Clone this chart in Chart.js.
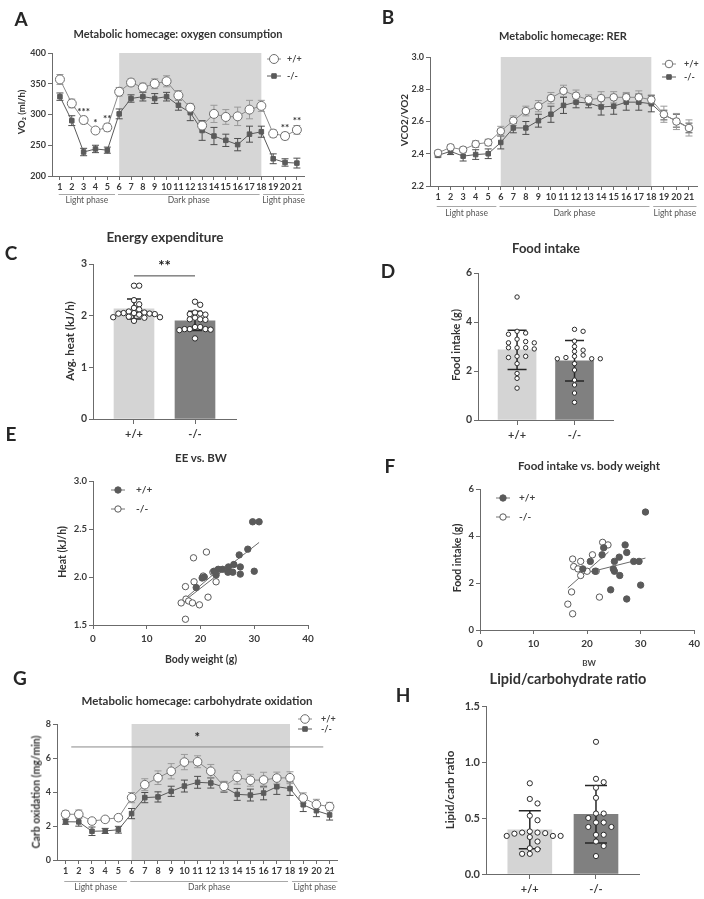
<!DOCTYPE html>
<html>
<head>
<meta charset="utf-8">
<script src="https://cdn.jsdelivr.net/npm/chart.js@4.4.1/dist/chart.umd.min.js"></script>
<style>
  html, body { margin: 0; padding: 0; background: #fff; }
  #fig { position: relative; width: 704px; height: 899px; overflow: hidden; font-family: Lato, 'Open Sans', sans-serif; color: #333; }
  #fig canvas { position: absolute; left: 0; top: 0; }
  .t { position: absolute; transform: translate(-50%, -50%); white-space: nowrap; font-weight: 700; line-height: 1; }
  .yt { transform: translate(-50%, -50%) rotate(-90deg); }
  .letter { font-size: 19px; color: #262626; }
</style>
</head>
<body>
<div id="fig">
  <canvas id="cA" width="704" height="899"></canvas>
  <canvas id="cB" width="704" height="899"></canvas>
  <canvas id="cC" width="704" height="899"></canvas>
  <canvas id="cD" width="704" height="899"></canvas>
  <canvas id="cE" width="704" height="899"></canvas>
  <canvas id="cF" width="704" height="899"></canvas>
  <canvas id="cG" width="704" height="899"></canvas>
  <canvas id="cH" width="704" height="899"></canvas>

  <div class="t letter" style="left:21px;top:18px">A</div>
  <div class="t letter" style="left:388px;top:16px">B</div>
  <div class="t letter" style="left:11px;top:252px">C</div>
  <div class="t letter" style="left:388px;top:270px">D</div>
  <div class="t letter" style="left:11px;top:433px">E</div>
  <div class="t letter" style="left:390px;top:465px">F</div>
  <div class="t letter" style="left:20px;top:677px">G</div>
  <div class="t letter" style="left:403px;top:694px">H</div>

  <div class="t" style="left:178px;top:33px;font-size:11px">Metabolic homecage: oxygen consumption</div>
  <div class="t" style="left:563px;top:35px;font-size:11px">Metabolic homecage: RER</div>
  <div class="t" style="left:165px;top:238px;font-size:13.5px">Energy expenditure</div>
  <div class="t" style="left:546px;top:248px;font-size:13px">Food intake</div>
  <div class="t" style="left:201px;top:458px;font-size:11.5px">EE vs. BW</div>
  <div class="t" style="left:589px;top:466px;font-size:11.5px">Food intake vs. body weight</div>
  <div class="t" style="left:197px;top:701px;font-size:11.5px">Metabolic homecage: carbohydrate oxidation</div>
  <div class="t" style="left:568px;top:679px;font-size:14.5px">Lipid/carbohydrate ratio</div>

  <div class="t yt" style="left:22px;top:112px;font-size:9.5px">VO₂ (ml/h)</div>
  <div class="t yt" style="left:404px;top:120px;font-size:10px">VCO2/VO2</div>
  <div class="t yt" style="left:70px;top:341px;font-size:11.5px">Avg. heat (kJ/h)</div>
  <div class="t yt" style="left:455px;top:345px;font-size:11px">Food intake (g)</div>
  <div class="t yt" style="left:62px;top:552px;font-size:10.5px">Heat (kJ/h)</div>
  <div class="t yt" style="left:457px;top:558px;font-size:10.5px">Food intake (g)</div>
  <div class="t yt" style="left:36px;top:792px;font-size:10.5px">Carb oxidation (mg/min)</div>
  <div class="t yt" style="left:450px;top:790px;font-size:11.5px">Lipid/carb ratio</div>

  <div class="t" style="left:201px;top:659px;font-size:10.5px">Body weight (g)</div>
  <div class="t" style="left:589px;top:663px;font-size:8px;color:#444">BW</div>
</div>

<script>
// ---- data ----
const groups = ['+/+', '-/-'];
const hours = [1, 2, 3, 4, 5, 6, 7, 8, 9, 10, 11, 12, 13, 14, 15, 16, 17, 18, 19, 20, 21];
const phaseNames = ['Light phase', 'Dark phase', 'Light phase'];
const phaseFrom = [0.9, 5.9, 18.15];
const phaseTo = [5.65, 17.85, 21.6];
const darkFrom = 6;
const darkTo = 18;

// A: oxygen consumption (mean, SEM)
const vo2WT = [357, 318, 291, 274, 279, 337, 352, 344, 350, 354, 331, 311, 282, 301, 296, 297, 308, 314, 269, 265, 275];
const vo2WTerr = [8, 7, 6, 4, 6, 7, 6, 7, 8, 9, 8, 7, 6, 14, 12, 15, 15, 9, 6, 6, 7];
const vo2KO = [329, 290, 239, 244, 242, 301, 326, 329, 326, 329, 315, 303, 274, 265, 258, 251, 268, 272, 228, 222, 221];
const vo2KOerr = [6, 8, 6, 6, 5, 8, 6, 7, 8, 7, 8, 13, 16, 14, 10, 10, 13, 9, 8, 6, 8];
const vo2Stars = ['', '', '***', '*', '**', '', '', '', '', '', '', '', '', '', '', '', '', '', '', '**', '**'];

// B: RER
const rerWT = [2.405, 2.44, 2.425, 2.46, 2.47, 2.54, 2.605, 2.665, 2.695, 2.745, 2.79, 2.76, 2.735, 2.745, 2.75, 2.75, 2.75, 2.735, 2.645, 2.6, 2.56];
const rerWTerr = [0.015, 0.015, 0.015, 0.02, 0.02, 0.03, 0.03, 0.03, 0.035, 0.035, 0.035, 0.035, 0.03, 0.04, 0.035, 0.03, 0.04, 0.03, 0.05, 0.05, 0.05];
const rerKO = [2.39, 2.415, 2.385, 2.395, 2.4, 2.47, 2.56, 2.56, 2.605, 2.645, 2.7, 2.72, 2.715, 2.69, 2.695, 2.72, 2.72, 2.71, 2.64, 2.605, 2.56];
const rerKOerr = [0.01, 0.02, 0.03, 0.03, 0.03, 0.04, 0.03, 0.04, 0.04, 0.05, 0.05, 0.035, 0.03, 0.05, 0.05, 0.05, 0.05, 0.05, 0.03, 0.04, 0.03];

// G: carbohydrate oxidation
const carbWT = [2.69, 2.69, 2.29, 2.39, 2.49, 3.67, 4.43, 4.84, 5.22, 5.76, 5.78, 5.22, 4.33, 4.86, 4.69, 4.71, 4.82, 4.84, 3.65, 3.27, 3.14];
const carbWTerr = [0.2, 0.25, 0.1, 0.15, 0.15, 0.3, 0.35, 0.4, 0.45, 0.45, 0.35, 0.4, 0.3, 0.4, 0.35, 0.45, 0.35, 0.35, 0.3, 0.3, 0.25];
const carbKO = [2.25, 2.24, 1.69, 1.71, 1.78, 2.73, 3.67, 3.71, 4.04, 4.35, 4.57, 4.53, 4.29, 3.86, 3.82, 3.94, 4.31, 4.2, 3.25, 2.9, 2.65];
const carbKOerr = [0.15, 0.25, 0.25, 0.15, 0.2, 0.3, 0.3, 0.3, 0.3, 0.35, 0.35, 0.3, 0.3, 0.35, 0.35, 0.4, 0.45, 0.4, 0.4, 0.35, 0.3];
const carbSig = [1.43, 20.52, 6.65];

// C: energy expenditure per mouse, bar = mean, whisker = SD
const eeWT = [2.58, 2.58, 2.3, 2.22, 2.15, 2.12, 2.08, 2.06, 2.05, 2.05, 2.04, 2.04, 2.03, 2.02, 1.98, 1.97, 1.97, 1.96, 1.9];
const eeKO = [2.27, 2.21, 2.06, 2.04, 2.03, 2.02, 1.96, 1.93, 1.93, 1.92, 1.78, 1.78, 1.74, 1.74, 1.74, 1.73, 1.72, 1.56];
const eeMean = [2.13, 1.9];
const eeSD = [0.195, 0.185];
const eeSig = 2.77;

// D: food intake
const foodWT = [5.02, 3.62, 3.55, 3.5, 3.3, 3.15, 3.15, 3.2, 2.95, 2.95, 2.95, 2.9, 2.6, 2.55, 2.6, 2.3, 1.9, 1.7, 1.3];
const foodKO = [3.7, 3.62, 3.22, 3.0, 2.85, 2.8, 2.65, 2.6, 2.55, 2.5, 2.5, 2.5, 2.3, 2.04, 1.63, 1.43, 1.1, 0.72];
const foodMean = [2.86, 2.42];
const foodSD = [0.8, 0.83];

// H: lipid/carb ratio
const ratioWT = [0.81, 0.67, 0.63, 0.52, 0.48, 0.38, 0.37, 0.37, 0.365, 0.36, 0.34, 0.34, 0.34, 0.33, 0.29, 0.23, 0.22, 0.18, 0.18];
const ratioKO = [1.18, 0.85, 0.82, 0.77, 0.68, 0.54, 0.54, 0.5, 0.46, 0.46, 0.42, 0.42, 0.35, 0.35, 0.29, 0.25, 0.16];
const ratioMean = [0.395, 0.533];
const ratioSD = [0.17, 0.257];

// E: heat vs body weight
const eeBwWTx = [29.7, 30.9, 28.8, 27.2, 30.0, 27.4, 27.4, 26.2, 26.0, 25.2, 25.1, 24.1, 23.3, 22.9, 22.5, 20.7, 20.3, 19.2];
const eeBwWTy = [2.575, 2.575, 2.29, 2.23, 2.06, 2.105, 2.03, 2.13, 2.05, 2.105, 2.05, 2.08, 2.08, 2.02, 2.06, 2.0, 1.99, 1.89];
const eeBwKOx = [18.7, 21.1, 22.3, 22.9, 18.8, 17.2, 20.5, 21.4, 17.3, 17.8, 16.4, 18.5, 19.8, 17.2];
const eeBwKOy = [2.2, 2.26, 2.05, 1.95, 1.95, 1.9, 2.01, 1.79, 1.77, 1.75, 1.73, 1.73, 1.71, 1.56];
const eeFitWTx = [17.2, 30.9], eeFitWTy = [1.76, 2.36];
const eeFitKOx = [16.4, 23.5], eeFitKOy = [1.74, 2.08];

// F: food intake vs body weight
const fiBwWTx = [30.9, 27.1, 27.4, 26.0, 28.7, 29.7, 25.1, 24.9, 25.1, 26.1, 30.0, 24.4, 27.4, 23.1, 22.8, 20.6, 19.2, 21.5];
const fiBwWTy = [5.02, 3.62, 3.3, 3.1, 2.92, 2.92, 2.92, 2.6, 2.5, 2.32, 1.91, 1.71, 1.32, 3.5, 3.2, 2.92, 2.6, 2.5];
const fiBwKOx = [22.9, 23.9, 21.0, 17.3, 18.8, 17.5, 18.3, 20.0, 18.8, 21.7, 17.1, 16.4, 17.3, 22.3];
const fiBwKOy = [3.73, 3.62, 3.2, 3.02, 2.92, 2.7, 2.6, 2.5, 2.32, 2.5, 1.62, 1.1, 0.69, 1.4];
const fiFitWTx = [18.5, 30.9], fiFitWTy = [2.35, 3.06];
const fiFitKOx = [16.4, 24.0], fiFitKOy = [1.79, 3.32];

// ---- look ----
const FONT = "Lato, 'Open Sans', sans-serif";
const AXIS = '#6b6b6b';
const TXT = '#3a3a3a';
const SHADE = '#d6d6d6';
const LIGHT = '#d4d4d4';
const DARK = '#808080';
const W = 704, H = 899, AXW = 30, AXH = 20;

Chart.defaults.font.family = FONT;
Chart.defaults.color = TXT;
Chart.defaults.animation = false;

// chart area in page pixels: [left, top, right, bottom]
function frame(area) {
    return { padding: { left: area[0] - AXW, top: area[1], right: W - area[2], bottom: H - area[3] - AXH } };
}

function xAxis(min, max, ticksAt, fmt, size, tickLen, pad) {
    return {
        type: 'linear', min: min, max: max, offset: false,
        afterBuildTicks: s => { s.ticks = ticksAt.map(v => ({ value: v })); },
        afterFit: s => { s.height = AXH; },
        border: { color: AXIS, width: 1 },
        grid: { drawOnChartArea: false, drawTicks: true, tickLength: tickLen, color: AXIS, offset: false },
        ticks: { autoSkip: false, maxRotation: 0, minRotation: 0, padding: pad, color: TXT, font: { size: size, weight: 'bold' }, callback: fmt }
    };
}

function yAxis(min, max, step, digits, size) {
    return {
        type: 'linear', min: min, max: max,
        afterFit: s => { s.width = AXW; },
        border: { color: AXIS, width: 1 },
        grid: { drawOnChartArea: false, drawTicks: true, tickLength: 4, color: AXIS },
        ticks: { stepSize: step, padding: 2, color: TXT, font: { size: size, weight: 'bold' }, callback: v => Number(v).toFixed(digits) }
    };
}

function marker(ctx, style, x, y, r, fill, stroke) {
    ctx.beginPath();
    if (style === 'rect') {
        const s = r * Math.SQRT1_2;
        ctx.rect(x - s, y - s, 2 * s, 2 * s);
    } else {
        ctx.arc(x, y, r, 0, Math.PI * 2);
    }
    ctx.fillStyle = fill;
    ctx.fill();
    ctx.lineWidth = 1;
    ctx.strokeStyle = stroke;
    ctx.stroke();
}

function drawErr(chart, ds, cap, width) {
    const { ctx, scales: { x, y } } = chart;
    ctx.save();
    ctx.strokeStyle = ds.errColor;
    ctx.lineWidth = width;
    ds.data.forEach((p, i) => {
        const e = ds.errors[i];
        const px = x.getPixelForValue(p.x);
        const top = y.getPixelForValue(p.y + e), bot = y.getPixelForValue(p.y - e);
        ctx.beginPath();
        ctx.moveTo(px, top); ctx.lineTo(px, bot);
        ctx.moveTo(px - cap / 2, top); ctx.lineTo(px + cap / 2, top);
        ctx.moveTo(px - cap / 2, bot); ctx.lineTo(px + cap / 2, bot);
        ctx.stroke();
    });
    ctx.restore();
}

function keyPlugin(sx, tx, ys, size) {
    return {
        id: 'key',
        afterDraw(chart) {
            const ctx = chart.ctx;
            ys.forEach((y, k) => {
                const ds = chart.data.datasets[k];
                ctx.save();
                ctx.strokeStyle = ds.keyLine;
                ctx.lineWidth = 1;
                ctx.beginPath(); ctx.moveTo(sx - 7, y); ctx.lineTo(sx + 7, y); ctx.stroke();
                marker(ctx, ds.pointStyle, sx, y, ds.pointRadius, ds.pointBackgroundColor, ds.pointBorderColor);
                ctx.fillStyle = '#444';
                ctx.font = 'bold ' + size + 'px ' + FONT;
                ctx.textAlign = 'left';
                ctx.textBaseline = 'middle';
                ctx.fillText(ds.label, tx, y);
                ctx.restore();
            });
        }
    };
}

function sigPlugin(from, to, val, text, color, size, gap) {
    return {
        id: 'sig',
        afterDatasetsDraw(chart) {
            const { ctx, scales: { x, y } } = chart;
            const a = x.getPixelForValue(from), b = x.getPixelForValue(to), py = y.getPixelForValue(val);
            ctx.save();
            ctx.strokeStyle = color;
            ctx.lineWidth = 1;
            ctx.beginPath(); ctx.moveTo(a, py); ctx.lineTo(b, py); ctx.stroke();
            ctx.fillStyle = '#222';
            ctx.font = 'bold ' + size + 'px ' + FONT;
            ctx.textAlign = 'center';
            ctx.textBaseline = 'middle';
            ctx.fillText(text, (a + b) / 2, py - gap);
            ctx.restore();
        }
    };
}

// time course panel (A, B, G)
function seriesPanel(id, area, o) {
    const plugins = [
        {
            id: 'shade',
            beforeDraw(chart) {
                const { ctx, chartArea: ca, scales: { x, y } } = chart;
                const a = x.getPixelForValue(darkFrom), b = x.getPixelForValue(darkTo);
                const top = y.getPixelForValue(o.y[1]);
                ctx.save();
                ctx.fillStyle = SHADE;
                ctx.fillRect(a, top, b - a, ca.bottom - top);
                ctx.restore();
            }
        },
        {
            id: 'errs',
            beforeDatasetsDraw(chart) {
                drawErr(chart, chart.data.datasets[1], 7, 1);
                drawErr(chart, chart.data.datasets[0], 7, 1);
            }
        },
        {
            id: 'phases',
            afterDraw(chart) {
                const { ctx, chartArea: ca, scales: { x } } = chart;
                ctx.save();
                ctx.strokeStyle = '#a8a8a8';
                ctx.lineWidth = 1;
                ctx.fillStyle = '#555';
                ctx.font = '8.5px ' + FONT;
                ctx.textAlign = 'center';
                ctx.textBaseline = 'middle';
                phaseNames.forEach((name, i) => {
                    const a = x.getPixelForValue(phaseFrom[i]), b = x.getPixelForValue(phaseTo[i]);
                    ctx.beginPath();
                    ctx.moveTo(a, ca.bottom + o.phase[0] + 0.5);
                    ctx.lineTo(b, ca.bottom + o.phase[0] + 0.5);
                    ctx.stroke();
                    ctx.fillText(name, (a + b) / 2, ca.bottom + o.phase[1]);
                });
                ctx.restore();
            }
        },
        keyPlugin(o.key[0], o.key[1], o.key.slice(2), 9)
    ].concat(o.extra || []);

    return new Chart(document.getElementById(id), {
        type: 'line',
        data: {
            datasets: [
                {
                    label: groups[0],
                    data: hours.map((h, i) => ({ x: h, y: o.wt[i] })),
                    errors: o.wtErr, errColor: '#9a9a9a', keyLine: '#8a8a8a',
                    borderColor: '#8a8a8a', borderWidth: 1,
                    pointStyle: 'circle', pointRadius: o.r,
                    pointBackgroundColor: '#fff', pointBorderColor: '#6e6e6e', pointBorderWidth: 1
                },
                {
                    label: groups[1],
                    data: hours.map((h, i) => ({ x: h, y: o.ko[i] })),
                    errors: o.koErr, errColor: '#4d4d4d', keyLine: '#5a5a5a',
                    borderColor: '#5a5a5a', borderWidth: 1,
                    pointStyle: 'rect', pointRadius: 3.2,
                    pointBackgroundColor: '#5a5a5a', pointBorderColor: '#5a5a5a', pointBorderWidth: 1
                }
            ]
        },
        options: {
            responsive: false, animation: false, events: [],
            layout: frame(area),
            plugins: { legend: { display: false }, tooltip: { enabled: false } },
            scales: {
                x: xAxis(o.x[0], o.x[1], hours, v => String(v), 9, 4, 2),
                y: yAxis(o.y[0], o.y[1], o.y[2], o.y[3], 9)
            }
        },
        plugins: plugins
    });
}

// horizontal spread of dots, GraphPad-style
function swarm(values, center, pxX, pxY, stepPx, rowPx) {
    const placed = [];
    const out = [];
    values.slice().sort((a, b) => b - a).forEach(v => {
        for (let k = 0; k < 60; k++) {
            const off = (k % 2 ? 1 : -1) * Math.ceil(k / 2) * stepPx;
            const hit = placed.some(p => Math.abs(p.off - off) < stepPx * 0.99 && Math.abs(p.v - v) * pxY < rowPx);
            if (!hit) {
                placed.push({ off: off, v: v });
                out.push({ x: center + off / pxX, y: v });
                break;
            }
        }
    });
    return out;
}

// bar + dots panel (C, D, H)
function barPanel(id, area, o) {
    const pxX = (area[2] - area[0]) / (o.x[1] - o.x[0]);
    const pxY = (area[3] - area[1]) / (o.y[1] - o.y[0]);
    const dots = swarm(o.wt, 1, pxX, pxY, o.step, o.rowH).concat(swarm(o.ko, 2, pxX, pxY, o.step, o.rowH));
    const plugins = [{
        id: 'sd',
        afterDatasetDraw(chart, args) {
            if (args.meta.type === 'bar') drawErr(chart, chart.data.datasets[args.index], o.cap, 1.5);
        }
    }].concat(o.extra || []);

    return new Chart(document.getElementById(id), {
        type: 'bar',
        data: {
            datasets: [
                {
                    type: 'scatter', data: dots, order: 1,
                    pointRadius: o.dotR, pointBackgroundColor: '#fff', pointBorderColor: '#2b2b2b', pointBorderWidth: 1
                },
                {
                    type: 'bar', order: 2,
                    data: [{ x: 1, y: o.mean[0] }, { x: 2, y: o.mean[1] }],
                    errors: o.sd, errColor: '#262626',
                    backgroundColor: [LIGHT, DARK], barThickness: o.barW
                }
            ]
        },
        options: {
            responsive: false, animation: false, events: [],
            layout: frame(area),
            plugins: { legend: { display: false }, tooltip: { enabled: false } },
            scales: {
                x: xAxis(o.x[0], o.x[1], [1, 2], v => groups[v - 1], 11, 5, 4),
                y: yAxis(o.y[0], o.y[1], o.y[2], o.y[3], o.tickSize)
            }
        },
        plugins: plugins
    });
}

// scatter + fit panel (E, F)
function scatterPanel(id, area, o) {
    const pts = (xs, ys) => xs.map((v, i) => ({ x: v, y: ys[i] }));
    return new Chart(document.getElementById(id), {
        type: 'scatter',
        data: {
            datasets: [
                {
                    label: groups[0], data: pts(o.wtX, o.wtY), keyLine: '#777',
                    pointStyle: 'circle', pointRadius: 3.2,
                    pointBackgroundColor: '#5a5a5a', pointBorderColor: '#5a5a5a', pointBorderWidth: 1
                },
                {
                    label: groups[1], data: pts(o.koX, o.koY), keyLine: '#777',
                    pointStyle: 'circle', pointRadius: 3.2,
                    pointBackgroundColor: '#fff', pointBorderColor: '#5a5a5a', pointBorderWidth: 1
                },
                { data: pts(o.fitWTx, o.fitWTy), showLine: true, pointRadius: 0, borderColor: '#6a6a6a', borderWidth: 1 },
                { data: pts(o.fitKOx, o.fitKOy), showLine: true, pointRadius: 0, borderColor: '#6a6a6a', borderWidth: 1 }
            ]
        },
        options: {
            responsive: false, animation: false, events: [],
            layout: frame(area),
            plugins: { legend: { display: false }, tooltip: { enabled: false } },
            scales: {
                x: xAxis(0, 40, [0, 10, 20, 30, 40], v => String(v), 10, 4, 4),
                y: yAxis(o.y[0], o.y[1], o.y[2], o.y[3], 9.5)
            }
        },
        plugins: [keyPlugin(o.key[0], o.key[1], o.key.slice(2), 10)]
    });
}

// ---- panels ----
seriesPanel('cA', [52, 53, 304, 176], {
    wt: vo2WT, wtErr: vo2WTerr, ko: vo2KO, koErr: vo2KOerr,
    x: [0.33, 21.6], y: [200, 400, 50, 0], r: 4.5,
    phase: [18, 24], key: [274, 287, 59, 76],
    extra: [{
        id: 'stars',
        afterDatasetsDraw(chart) {
            const { ctx, scales: { x, y } } = chart;
            ctx.save();
            ctx.fillStyle = '#333';
            ctx.font = 'bold 10px ' + FONT;
            ctx.textAlign = 'center';
            ctx.textBaseline = 'middle';
            vo2Stars.forEach((s, i) => {
                if (s) ctx.fillText(s, x.getPixelForValue(hours[i]), y.getPixelForValue(vo2WT[i] + vo2WTerr[i]) - 5);
            });
            ctx.restore();
        }
    }]
});

seriesPanel('cB', [430, 57, 697, 186], {
    wt: rerWT, wtErr: rerWTerr, ko: rerKO, koErr: rerKOerr,
    x: [0.36, 21.64], y: [2.2, 3.0, 0.2, 1], r: 3.8,
    phase: [20, 27], key: [669, 684, 64, 77]
});

seriesPanel('cG', [57, 724, 337, 860], {
    wt: carbWT, wtErr: carbWTerr, ko: carbKO, koErr: carbKOerr,
    x: [0.35, 21.56], y: [0, 8, 2, 0], r: 4.3,
    phase: [21, 27], key: [305, 321, 719, 729],
    extra: [sigPlugin(carbSig[0], carbSig[1], carbSig[2], '*', '#8a8a8a', 13, 9)]
});

barPanel('cC', [93, 264, 236, 419], {
    wt: eeWT, ko: eeKO, mean: eeMean, sd: eeSD,
    x: [0.328, 2.672], y: [0, 3, 1, 0], tickSize: 10.5,
    barW: 40, cap: 14, dotR: 2.7, step: 5.2, rowH: 5,
    extra: [sigPlugin(1, 2, eeSig, '**', '#444', 15, 10)]
});

barPanel('cD', [478, 273, 613, 420], {
    wt: foodWT, ko: foodKO, mean: foodMean, sd: foodSD,
    x: [0.32, 2.67], y: [0, 6, 2, 0], tickSize: 10.5,
    barW: 38, cap: 19, dotR: 2.2, step: 8.6, rowH: 4.4
});

barPanel('cH', [486, 706, 639, 874], {
    wt: ratioWT, ko: ratioKO, mean: ratioMean, sd: ratioSD,
    x: [0.338, 2.65], y: [0, 1.5, 0.5, 1], tickSize: 11,
    barW: 44, cap: 22, dotR: 2.6, step: 7.7, rowH: 5.2
});

scatterPanel('cE', [93, 481, 308, 625], {
    wtX: eeBwWTx, wtY: eeBwWTy, koX: eeBwKOx, koY: eeBwKOy,
    fitWTx: eeFitWTx, fitWTy: eeFitWTy, fitKOx: eeFitKOx, fitKOy: eeFitKOy,
    y: [1.5, 3.0, 0.5, 1], key: [118, 136, 490, 509]
});

scatterPanel('cF', [480, 489, 697, 630], {
    wtX: fiBwWTx, wtY: fiBwWTy, koX: fiBwKOx, koY: fiBwKOy,
    fitWTx: fiFitWTx, fitWTy: fiFitWTy, fitKOx: fiFitKOx, fitKOy: fiFitKOy,
    y: [0, 6, 2, 0], key: [503, 519, 498, 517]
});
</script>
</body>
</html>
